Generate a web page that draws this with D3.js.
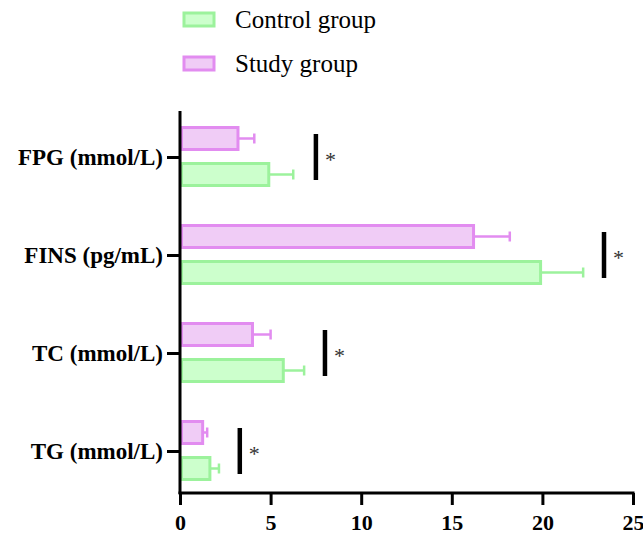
<!DOCTYPE html>
<html>
<head>
<meta charset="utf-8">
<script src="https://cdn.jsdelivr.net/npm/d3@7"></script>
<style>
  body { margin: 0; background: #fff; }
  svg { font-family: "Liberation Serif", "Times New Roman", serif; }
</style>
</head>
<body>
<svg id="chart" width="643" height="535"></svg>
<script>
var categories = ['FPG (mmol/L)', 'FINS (pg/mL)', 'TC (mmol/L)', 'TG (mmol/L)'];
var controlMean = [4.9, 19.9, 5.7, 1.65];
var controlErr = [1.35, 2.35, 1.15, 0.5];
var studyMean = [3.2, 16.2, 4.0, 1.25];
var studyErr = [0.9, 2.0, 1.0, 0.25];
var xTicks = [0, 5, 10, 15, 20, 25];
var bracketAt = [7.5, 23.4, 8.0, 3.3];

var svg = d3.select('#chart');

var x = d3.scaleLinear().domain([0, 25]).range([180, 633]);
var y = d3.scalePoint().domain(categories).range([157, 451]);

var series = [
  { name: 'Control group', mean: controlMean, err: controlErr, fill: '#ccffcc', stroke: '#9cf29c', off: 17.5 },
  { name: 'Study group', mean: studyMean, err: studyErr, fill: '#f0ccf6', stroke: '#e28cf0', off: -18.5 }
];
var barH = 22;

// bars + error bars
series.forEach(function(s) {
  var g = svg.append('g');
  categories.forEach(function(c, i) {
    var cy = y(c) + s.off;
    var xe = x(s.mean[i] + s.err[i]);
    g.append('line')
      .attr('x1', x(s.mean[i])).attr('x2', xe)
      .attr('y1', cy).attr('y2', cy)
      .attr('stroke', s.stroke).attr('stroke-width', 2.5);
    g.append('line')
      .attr('x1', xe).attr('x2', xe)
      .attr('y1', cy - 5).attr('y2', cy + 5)
      .attr('stroke', s.stroke).attr('stroke-width', 2.5);
    g.append('rect')
      .attr('x', x(0) + 1.5)
      .attr('y', cy - barH / 2)
      .attr('width', x(s.mean[i]) - x(0) - 1.5)
      .attr('height', barH)
      .attr('fill', s.fill)
      .attr('stroke', s.stroke)
      .attr('stroke-width', 3);
  });
});

// significance marks
categories.forEach(function(c, i) {
  var bx = x(bracketAt[i]);
  svg.append('line')
    .attr('x1', bx).attr('x2', bx)
    .attr('y1', y(c) - 23).attr('y2', y(c) + 23)
    .attr('stroke', '#000').attr('stroke-width', 4.5);
  svg.append('text')
    .attr('x', bx + 9).attr('y', y(c) + 10)
    .attr('font-size', 22)
    .attr('fill', '#333')
    .text('*');
});

// y axis
svg.append('line')
  .attr('x1', x(0)).attr('x2', x(0))
  .attr('y1', 111).attr('y2', 494)
  .attr('stroke', '#000').attr('stroke-width', 3);

var yAxis = svg.append('g')
  .attr('transform', 'translate(' + x(0) + ',0)')
  .call(d3.axisLeft(y).tickSize(13).tickPadding(4));
yAxis.select('.domain').remove();
yAxis.selectAll('.tick line').attr('stroke', '#000').attr('stroke-width', 3);
yAxis.selectAll('.tick text')
  .attr('font-family', '"Liberation Serif", "Times New Roman", serif')
  .attr('font-size', 23)
  .attr('font-weight', 'bold')
  .attr('fill', '#000');

// x axis
var xAxis = svg.append('g')
  .attr('transform', 'translate(0,493)')
  .call(d3.axisBottom(x).tickValues(xTicks).tickSize(12).tickSizeOuter(0).tickPadding(9));
xAxis.select('.domain').attr('stroke', '#000').attr('stroke-width', 3)
  .attr('d', 'M' + (x(0) - 1.5) + ',0H' + (x(25) + 1.5));
xAxis.selectAll('.tick line').attr('stroke', '#000').attr('stroke-width', 3);
xAxis.selectAll('.tick text')
  .attr('font-family', '"Liberation Serif", "Times New Roman", serif')
  .attr('font-size', 22)
  .attr('font-weight', 'bold')
  .attr('fill', '#000');

// legend
var legend = svg.append('g').attr('transform', 'translate(184,13)');
series.forEach(function(s, i) {
  var row = legend.append('g').attr('transform', 'translate(0,' + (i * 44) + ')');
  row.append('rect')
    .attr('width', 30).attr('height', 13)
    .attr('fill', s.fill).attr('stroke', s.stroke).attr('stroke-width', 3);
  row.append('text')
    .attr('x', 51).attr('y', 15)
    .attr('font-size', 25)
    .attr('fill', '#000')
    .text(s.name);
});
</script>
</body>
</html>
